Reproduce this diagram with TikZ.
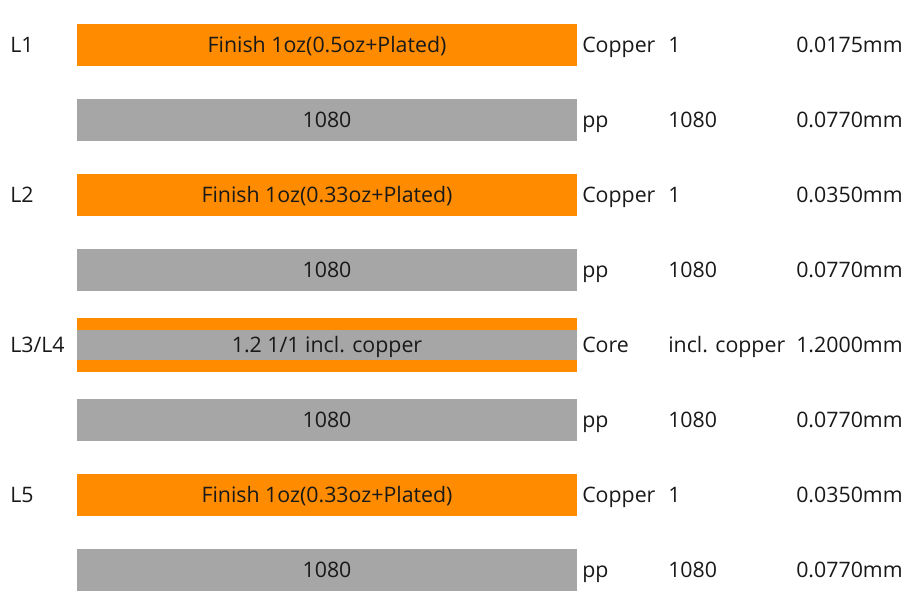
\documentclass[tikz,border=0pt]{standalone}
\usepackage{fontspec}
\setmainfont{Open Sans}
\definecolor{cu}{HTML}{FF8C00}
\definecolor{pp}{HTML}{A6A6A6}
\begin{document}
\begin{tikzpicture}[x=0.75pt,y=-0.75pt,
  every node/.style={font=\fontsize{16pt}{18pt}\selectfont, text=black!90},
  bar/.style={minimum width=375pt, minimum height=31.5pt, inner sep=0pt, anchor=center},
  cubar/.style={bar, fill=cu},
  ppbar/.style={bar, fill=pp},
  txt/.style={text height=11.4pt, text depth=0pt, inner sep=0pt},
  lab/.style={txt, anchor=west}]
\useasboundingbox (0,0) rectangle (913,615);
% rows
\node[cubar] (b1) at (327,45) {};
\node[ppbar] (b2) at (327,120) {};
\node[cubar] (b3) at (327,195) {};
\node[ppbar] (b4) at (327,270) {};
\node[bar, fill=cu, minimum height=40.5pt] (b5o) at (327,345) {};
\node[bar, fill=pp, minimum height=22.5pt] (b5) at (327,345) {};
\node[ppbar] (b6) at (327,420) {};
\node[cubar] (b7) at (327,495) {};
\node[ppbar] (b8) at (327,570) {};
\node[txt] (t1) at (b1.center) {Finish 1oz(0.5oz+Plated)};
\node[txt] (t2) at (b2.center) {1080};
\node[txt] (t3) at (b3.center) {Finish 1oz(0.33oz+Plated)};
\node[txt] (t4) at (b4.center) {1080};
\node[txt] (t5) at (b5.center) {1.2 1/1 incl. copper};
\node[txt] (t6) at (b6.center) {1080};
\node[txt] (t7) at (b7.center) {Finish 1oz(0.33oz+Plated)};
\node[txt] (t8) at (b8.center) {1080};
% left labels
\node[lab] (l1) at (10,45) {L1};
\node[lab] (l2) at (10,195) {L2};
\node[lab] (l34) at (10,345) {L3/L4};
\node[lab] (l5) at (10,495) {L5};
% right columns
\foreach \y/\a/\b/\c [count=\i] in {45/Copper/1/0.0175mm, 120/pp/1080/0.0770mm, 195/Copper/1/0.0350mm, 270/pp/1080/0.0770mm, 345/Core/incl. copper/1.2000mm, 420/pp/1080/0.0770mm, 495/Copper/1/0.0350mm, 570/pp/1080/0.0770mm}{
  \node[lab] (ta\i) at (582,\y) {\a};
  \node[lab] (tb\i) at (668,\y) {\b};
  \node[lab] (tc\i) at (796,\y) {\c};
}
\end{tikzpicture}
\end{document}
